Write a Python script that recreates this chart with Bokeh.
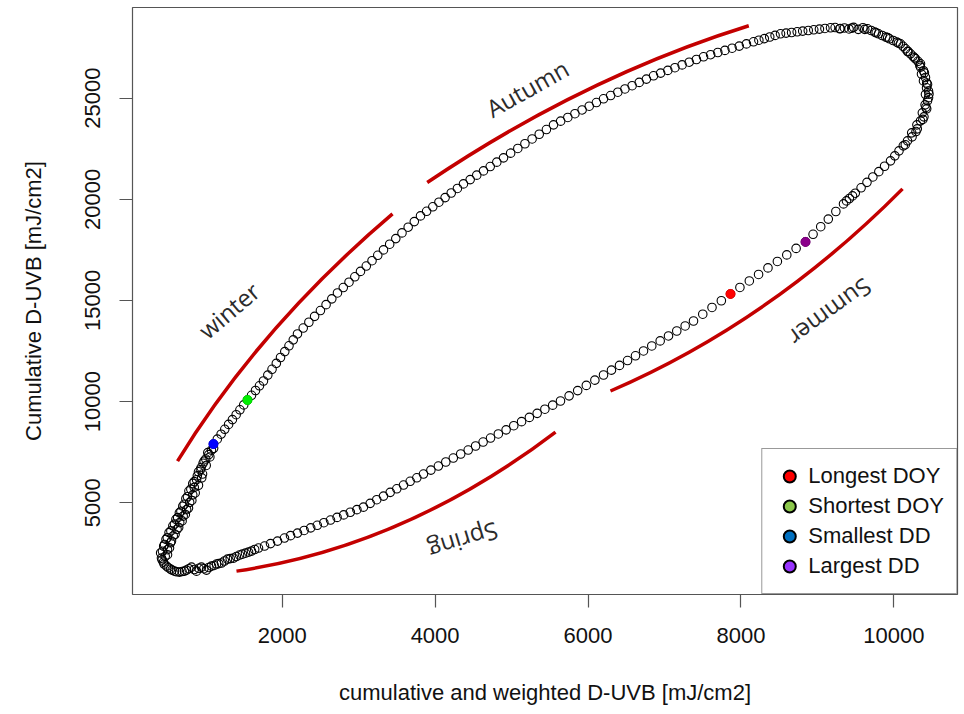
from bokeh.plotting import figure
from bokeh.models import Range1d, FixedTicker, Legend, LegendItem
from bokeh.core.properties import value
from bokeh.embed import file_html
from bokeh.resources import INLINE

# ---------------- data ----------------
# spring: lower branch, from the bottom-left turn up to the longest day
spring_x = [748, 780, 814, 850, 879, 910, 944, 975, 1010, 1040, 1075, 1110, 1141, 1170, 1206,
            1245, 1285, 1320, 1363, 1400, 1442, 1480, 1520, 1560, 1598, 1640, 1690,
            1769, 1847, 1939, 2030, 2109, 2200, 2287, 2373, 2459, 2545, 2632, 2718, 2804, 2891,
            2977, 3063, 3151, 3237, 3325, 3413, 3499, 3587, 3674, 3761, 3848, 3945, 4043, 4140,
            4238, 4335, 4433, 4530, 4628, 4725, 4827, 4929, 5029, 5131, 5233, 5335, 5436, 5538,
            5640, 5753, 5865, 5978, 6090, 6203, 6307, 6412, 6517, 6621, 6726, 6834, 6944, 7053,
            7161, 7271, 7380, 7501, 7622, 7744, 7864]
spring_y = [1670, 1740, 1820, 1700, 1620, 1760, 1820, 1740, 1670, 1800, 1870, 1900, 1970, 1990,
            2020, 2120, 2215, 2240, 2265, 2340, 2415, 2460, 2510, 2560, 2610, 2690, 2760,
            2860, 2980, 3105, 3255, 3375, 3500, 3630, 3760, 3885, 4015, 4145, 4275, 4400, 4530,
            4660, 4785, 4970, 5150, 5330, 5515, 5690, 5875, 6060, 6235, 6420, 6615, 6815, 7015,
            7210, 7410, 7605, 7805, 8000, 8200, 8400, 8605, 8810, 9010, 9220, 9420, 9625, 9825,
            10030, 10285, 10545, 10800, 11060, 11315, 11555, 11790, 12030, 12265, 12505, 12750,
            13000, 13245, 13490, 13740, 13985, 14320, 14655, 14985, 15320]

# summer: from the longest day round the top-right turn
summer_x = [7987, 8110, 8231, 8354, 8477, 8600, 8722, 8845, 8944, 9044, 9143, 9242, 9342, 9381,
            9419, 9460, 9496, 9572, 9649, 9726, 9804, 9879, 9957, 10013, 10068, 10124, 10150,
            10179, 10239, 10234, 10290, 10307, 10302, 10349, 10380, 10394, 10373, 10430, 10420,
            10409, 10441, 10454, 10414, 10460, 10454, 10428, 10441, 10430, 10388, 10414, 10400,
            10362, 10388, 10349, 10340, 10349, 10316, 10284, 10270, 10251, 10218, 10180, 10186,
            10153, 10120, 10060, 10087, 10039, 9992, 9920, 9944, 9895, 9848, 9770, 9800, 9751,
            9704, 9620, 9656, 9596, 9535, 9450, 9474, 9414, 9354, 9300, 9293, 9232, 9172]
summer_y = [15643, 15965, 16286, 16608, 16929, 17251, 17572, 17894, 18270, 18646, 19021, 19397,
            19773, 19922, 20040, 20169, 20302, 20570, 20837, 21104, 21366, 21633, 21900, 22147,
            22395, 22642, 22700, 22889, 23087, 23285, 23350, 23483, 23681, 23878, 23950, 24076,
            24274, 24472, 24550, 24670, 24868, 25026, 25189, 25200, 25347, 25511, 25679, 25750,
            25852, 26020, 26250, 26188, 26356, 26530, 26620, 26698, 26821, 26945, 27000, 27069,
            27192, 27300, 27316, 27440, 27563, 27720, 27687, 27771, 27850, 27990, 27934, 28018,
            28097, 28230, 28181, 28266, 28345, 28400, 28429, 28480, 28400, 28460, 28500, 28420,
            28470, 28440, 28430, 28490, 28478]

# autumn: upper branch, from the top back down to the shortest day
autumn_x = [9099, 9027, 8953, 8881, 8808, 8736, 8663, 8591, 8518, 8447, 8377, 8306, 8235, 8165,
            8072, 7978, 7885, 7791, 7698, 7604, 7511, 7418, 7324, 7231, 7137, 7044, 6950, 6857,
            6764, 6670, 6577, 6483, 6390, 6296, 6203, 6110, 6016, 5923, 5829, 5736, 5642, 5549,
            5456, 5362, 5269, 5175, 5082, 4988, 4895, 4807, 4721, 4633, 4545, 4459, 4371, 4292,
            4211, 4131, 4050, 3970, 3889, 3809, 3728, 3648, 3567, 3486, 3406, 3325, 3250, 3175,
            3100, 3024, 2950, 2874, 2799, 2723, 2649, 2574, 2500, 2424, 2349, 2275, 2200, 2145,
            2089, 2034, 1978, 1923, 1867, 1812, 1755, 1703, 1651, 1599, 1546]
autumn_y = [28444, 28414, 28379, 28345, 28315, 28280, 28246, 28216, 28181, 28102, 28023, 27944,
            27865, 27786, 27682, 27573, 27469, 27360, 27257, 27148, 27044, 26910, 26777, 26643,
            26505, 26371, 26238, 26104, 25941, 25778, 25614, 25456, 25293, 25130, 24967, 24784,
            24601, 24418, 24230, 24047, 23864, 23681, 23448, 23216, 22983, 22746, 22513, 22281,
            22048, 21836, 21618, 21405, 21193, 20975, 20762, 20535, 20312, 20085, 19857, 19630,
            19407, 19180, 18898, 18621, 18339, 18057, 17780, 17498, 17231, 16964, 16702, 16435,
            16168, 15901, 15638, 15371, 15080, 14793, 14501, 14214, 13922, 13635, 13343, 13052,
            12760, 12473, 12181, 11889, 11598, 11311, 11019, 10781, 10549, 10312, 10079]

# winter: from the shortest day down into the bottom-left turn
winter_x = [1497, 1447, 1398, 1349, 1299, 1249, 1201, 1151, 1101, 1075, 1103, 1040, 1027, 1000,
            1054, 965, 979, 940, 1006, 905, 930, 890, 958, 880, 948, 830, 849, 850, 905, 780,
            805, 830, 862, 740, 761, 790, 818, 700, 718, 750, 774, 655, 675, 705, 733, 610, 633,
            660, 691, 570, 591, 625, 646, 520, 544, 575, 599, 480, 497, 540, 552, 450, 461, 500,
            526, 410, 434, 470, 500, 421, 430, 447, 455, 487, 510, 539, 560, 591, 620, 657, 690,
            722]
winter_y = [9837, 9594, 9352, 9110, 8872, 8630, 8388, 8145, 7903, 7600, 7690, 7380, 7477, 7160,
            7265, 6950, 7057, 6740, 6844, 6530, 6632, 6330, 6419, 6140, 6231, 5950, 6043, 5760,
            5860, 5580, 5672, 5390, 5484, 5200, 5296, 5020, 5113, 4830, 4925, 4660, 4737, 4500,
            4579, 4340, 4421, 4180, 4263, 4020, 4104, 3860, 3946, 3690, 3778, 3525, 3610, 3360,
            3442, 3190, 3273, 3020, 3105, 2850, 2937, 2680, 2769, 2520, 2601, 2350, 2433, 2264,
            2170, 2067, 1970, 1869, 1790, 1720, 1670, 1621, 1590, 1572, 1600, 1621]

# highlighted days
mark_labels = ["Longest DOY", "Shortest DOY", "Smallest DD", "Largest DD"]
mark_x = [7864, 1546, 1101, 8845]
mark_y = [15322, 10079, 7903, 17894]

x_ticks = [2000, 4000, 6000, 8000, 10000]
y_ticks = [5000, 10000, 15000, 20000, 25000]

season_labels = ["winter", "Autumn", "Summer", "Spring"]

# ---------------- annotation geometry ----------------
arc_x0 = [631, 3897, 6294, 1402]
arc_y0 = [7062, 20827, 10525, 1621]
arc_x1 = [3443, 8103, 10114, 5575]
arc_y1 = [19279, 28577, 20516, 8496]
arc_cx = [1710, 5935, 8387, 3606]
arc_cy = [13714, 26025, 13937, 2833]

label_x = [1302, 5205, 9172, 4371]
label_y = [14516, 25496, 14397, 3105]
label_angle = [0.707, 0.513, 3.77, 3.44]

plot_colors = ["#FF0000", "#00EE00", "#0000FF", "#8B008B"]
legend_colors = ["#FF0000", "#8CC84B", "#0070C0", "#9933FF"]

# ---------------- figure ----------------
p = figure(width=964, height=714, output_backend="svg", toolbar_location=None,
           x_range=Range1d(42, 10833), y_range=Range1d(465, 29481),
           min_border_left=132, min_border_right=7, min_border_top=7, min_border_bottom=120,
           background_fill_color="white", border_fill_color="white")

p.xgrid.visible = False
p.ygrid.visible = False
p.outline_line_color = "#555555"
p.outline_line_width = 1.2

for ax, ticks in ((p.xaxis[0], x_ticks), (p.yaxis[0], y_ticks)):
    ax.ticker = FixedTicker(ticks=ticks)
    ax.axis_line_color = None
    ax.major_tick_out = 13
    ax.major_tick_in = 0
    ax.major_tick_line_color = "#555555"
    ax.major_tick_line_width = 1.2
    ax.minor_tick_line_color = None
    ax.major_label_text_font = "Liberation Sans"
    ax.major_label_text_font_size = "22px"
    ax.major_label_text_color = "#111111"
    ax.axis_label_text_font = "Liberation Sans"
    ax.axis_label_text_font_size = "22px"
    ax.axis_label_text_font_style = "normal"
    ax.axis_label_text_color = "#111111"

p.xaxis.axis_label = "cumulative and weighted D-UVB [mJ/cm2]"
p.yaxis.axis_label = "Cumulative D-UVB [mJ/cm2]"
p.xaxis.major_label_standoff = 20
p.yaxis.major_label_standoff = 19
p.yaxis.major_label_orientation = "vertical"
p.xaxis.axis_label_standoff = 34
p.yaxis.axis_label_standoff = 37

# season arcs
p.quadratic(x0=arc_x0, y0=arc_y0, x1=arc_x1, y1=arc_y1, cx=arc_cx, cy=arc_cy,
            line_color="#C30000", line_width=3.5)

# season labels
p.text(x=label_x, y=label_y, text=season_labels, angle=label_angle,
       text_font=value("Open Sans"), text_font_size="24px", text_color="#2b2b2b",
       text_align="center", text_baseline="middle")

# daily points
for xs, ys in ((spring_x, spring_y), (summer_x, summer_y), (autumn_x, autumn_y), (winter_x, winter_y)):
    p.scatter(xs, ys, size=8.5, marker="circle", fill_color=None,
              line_color="black", line_width=1.1)

# highlighted points
for i in range(4):
    p.scatter([mark_x[i]], [mark_y[i]], size=9, marker="circle",
              fill_color=plot_colors[i], line_color=plot_colors[i])

# legend (own swatch colours)
items = []
for i in range(4):
    r = p.scatter([mark_x[i]], [mark_y[i]], size=12, marker="circle",
                  fill_color=legend_colors[i], line_color="black", line_width=2,
                  visible=False)
    items.append(LegendItem(label=mark_labels[i], renderers=[r]))

legend = Legend(items=items, location="bottom_right", margin=0, padding=12,
                spacing=0, glyph_width=30, glyph_height=30, label_height=30,
                label_standoff=4, label_text_font="Liberation Sans",
                label_text_font_size="22px", label_text_color="#111111",
                border_line_color="#333333", border_line_width=1.2,
                background_fill_color="white", background_fill_alpha=1.0)
p.add_layout(legend)

open("out.html", "w").write(file_html(p, INLINE))
